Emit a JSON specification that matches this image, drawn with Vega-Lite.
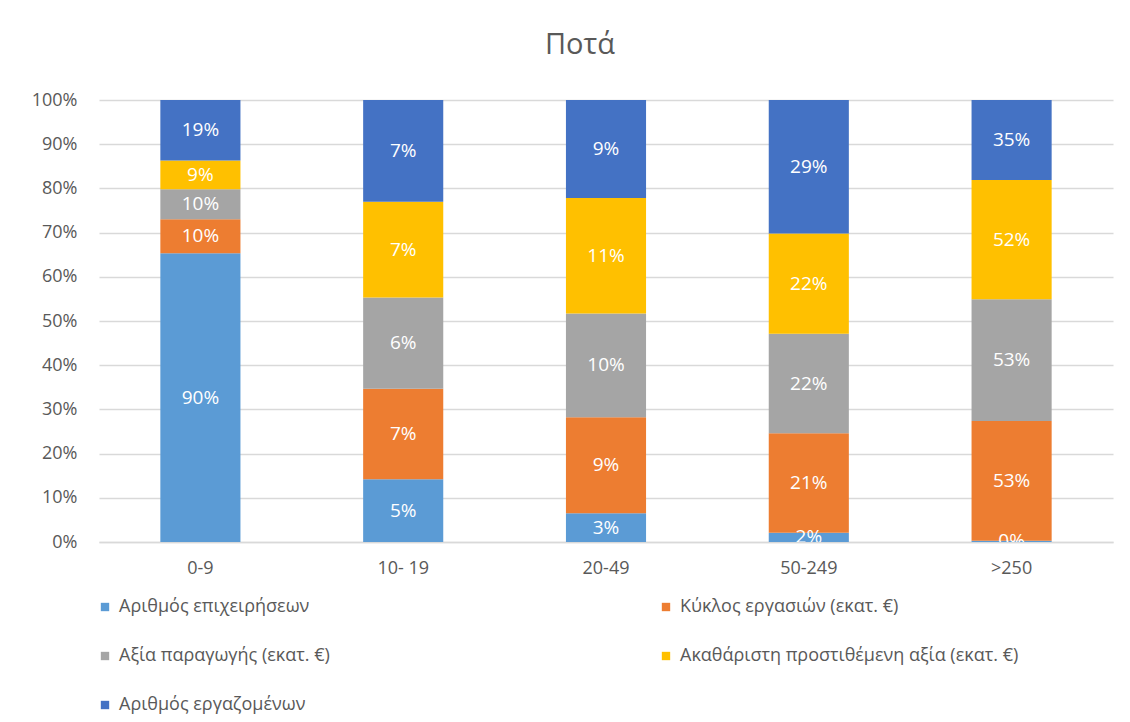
{
  "$schema": "https://vega.github.io/schema/vega-lite/v6.json",
  "width": 1014,
  "height": 442,
  "autosize": {"type": "none"},
  "padding": {"left": 99, "top": 100, "right": 17, "bottom": 180},
  "background": "white",
  "title": {
    "text": "Ποτά",
    "fontSize": 29,
    "font": "Open Sans",
    "fontWeight": "normal",
    "color": "#595959",
    "anchor": "middle",
    "dx": -26,
    "baseline": "alphabetic",
    "offset": 8
  },
  "config": {
    "view": {"stroke": null},
    "font": "Open Sans"
  },
  "data": {
    "values": [
      {"size": "0-9", "metric": "Αριθμός επιχειρήσεων", "order": 1, "share": 65.3, "label": "90%"},
      {"size": "0-9", "metric": "Κύκλος εργασιών  (εκατ. €)", "order": 2, "share": 7.7, "label": "10%"},
      {"size": "0-9", "metric": "Αξία παραγωγής  (εκατ. €)", "order": 3, "share": 6.8, "label": "10%"},
      {"size": "0-9", "metric": "Ακαθάριστη προστιθέμενη αξία (εκατ. €)", "order": 4, "share": 6.5, "label": "9%"},
      {"size": "0-9", "metric": "Αριθμός εργαζομένων", "order": 5, "share": 13.7, "label": "19%"},
      {"size": "10- 19", "metric": "Αριθμός επιχειρήσεων", "order": 1, "share": 14.2, "label": "5%"},
      {"size": "10- 19", "metric": "Κύκλος εργασιών  (εκατ. €)", "order": 2, "share": 20.5, "label": "7%"},
      {"size": "10- 19", "metric": "Αξία παραγωγής  (εκατ. €)", "order": 3, "share": 20.6, "label": "6%"},
      {"size": "10- 19", "metric": "Ακαθάριστη προστιθέμενη αξία (εκατ. €)", "order": 4, "share": 21.7, "label": "7%"},
      {"size": "10- 19", "metric": "Αριθμός εργαζομένων", "order": 5, "share": 23.0, "label": "7%"},
      {"size": "20-49", "metric": "Αριθμός επιχειρήσεων", "order": 1, "share": 6.5, "label": "3%"},
      {"size": "20-49", "metric": "Κύκλος εργασιών  (εκατ. €)", "order": 2, "share": 21.7, "label": "9%"},
      {"size": "20-49", "metric": "Αξία παραγωγής  (εκατ. €)", "order": 3, "share": 23.5, "label": "10%"},
      {"size": "20-49", "metric": "Ακαθάριστη προστιθέμενη αξία (εκατ. €)", "order": 4, "share": 26.1, "label": "11%"},
      {"size": "20-49", "metric": "Αριθμός εργαζομένων", "order": 5, "share": 22.2, "label": "9%"},
      {"size": "50-249", "metric": "Αριθμός επιχειρήσεων", "order": 1, "share": 2.1, "label": "2%"},
      {"size": "50-249", "metric": "Κύκλος εργασιών  (εκατ. €)", "order": 2, "share": 22.5, "label": "21%"},
      {"size": "50-249", "metric": "Αξία παραγωγής  (εκατ. €)", "order": 3, "share": 22.5, "label": "22%"},
      {"size": "50-249", "metric": "Ακαθάριστη προστιθέμενη αξία (εκατ. €)", "order": 4, "share": 22.7, "label": "22%"},
      {"size": "50-249", "metric": "Αριθμός εργαζομένων", "order": 5, "share": 30.2, "label": "29%"},
      {"size": ">250", "metric": "Αριθμός επιχειρήσεων", "order": 1, "share": 0.3, "label": "0%"},
      {"size": ">250", "metric": "Κύκλος εργασιών  (εκατ. €)", "order": 2, "share": 27.1, "label": "53%"},
      {"size": ">250", "metric": "Αξία παραγωγής  (εκατ. €)", "order": 3, "share": 27.5, "label": "53%"},
      {"size": ">250", "metric": "Ακαθάριστη προστιθέμενη αξία (εκατ. €)", "order": 4, "share": 27.0, "label": "52%"},
      {"size": ">250", "metric": "Αριθμός εργαζομένων", "order": 5, "share": 18.1, "label": "35%"}
    ]
  },
  "transform": [
    {"stack": "share", "groupby": ["size"], "sort": [{"field": "order", "order": "ascending"}], "as": ["y0", "y1"], "offset": "normalize"},
    {"calculate": "(datum.y0 + datum.y1) / 2", "as": "ymid"}
  ],
  "encoding": {
    "x": {
      "field": "size",
      "type": "nominal",
      "sort": ["0-9", "10- 19", "20-49", "50-249", ">250"],
      "scale": {"paddingInner": 0.605, "paddingOuter": 0.3025},
      "axis": {
        "title": null,
        "labelAngle": 0,
        "labelFontSize": 18,
        "labelColor": "#595959",
        "labelPadding": 17,
        "ticks": false,
        "domain": true,
        "domainColor": "#d9d9d9",
        "domainWidth": 1.5
      }
    }
  },
  "layer": [
    {
      "mark": {"type": "bar", "stroke": null},
      "encoding": {
        "y": {
          "field": "y0",
          "type": "quantitative",
          "scale": {"domain": [0, 1], "nice": false},
          "axis": {
            "title": null,
            "format": ".0%",
            "values": [0, 0.1, 0.2, 0.3, 0.4, 0.5, 0.6, 0.7, 0.8, 0.9, 1],
            "labelFontSize": 18,
            "labelColor": "#595959",
            "labelPadding": 22,
            "labelOverlap": false,
            "ticks": false,
            "domain": false,
            "grid": true,
            "gridColor": "#d9d9d9",
            "gridWidth": 1.5
          }
        },
        "y2": {"field": "y1"},
        "color": {
          "field": "metric",
          "type": "nominal",
          "scale": {
            "domain": ["Αριθμός επιχειρήσεων", "Κύκλος εργασιών  (εκατ. €)", "Αξία παραγωγής  (εκατ. €)", "Ακαθάριστη προστιθέμενη αξία (εκατ. €)", "Αριθμός εργαζομένων"],
            "range": ["#5B9BD5", "#ED7D31", "#A5A5A5", "#FFC000", "#4472C4"]
          },
          "legend": {
            "title": null,
            "orient": "none",
            "legendX": -3,
            "legendY": 498,
            "direction": "horizontal",
            "columns": 2,
            "columnPadding": 322,
            "rowPadding": 31,
            "padding": 0,
            "symbolType": "square",
            "symbolSize": 70,
            "symbolStrokeWidth": 0,
            "labelFontSize": 18,
            "labelColor": "#595959",
            "labelOffset": 5,
            "labelLimit": 500
          }
        },
        "order": {"field": "order", "type": "quantitative"}
      }
    },
    {
      "mark": {"type": "text", "color": "white", "fontSize": 19, "baseline": "middle", "align": "center", "clip": true},
      "encoding": {
        "y": {
          "field": "ymid",
          "type": "quantitative",
          "scale": {"domain": [0, 1], "nice": false},
          "axis": {
            "title": null,
            "format": ".0%",
            "values": [0, 0.1, 0.2, 0.3, 0.4, 0.5, 0.6, 0.7, 0.8, 0.9, 1],
            "labelFontSize": 18,
            "labelColor": "#595959",
            "labelPadding": 22,
            "labelOverlap": false,
            "ticks": false,
            "domain": false,
            "grid": true,
            "gridColor": "#d9d9d9",
            "gridWidth": 1.5
          }
        },
        "text": {"field": "label", "type": "nominal"}
      }
    }
  ]
}
